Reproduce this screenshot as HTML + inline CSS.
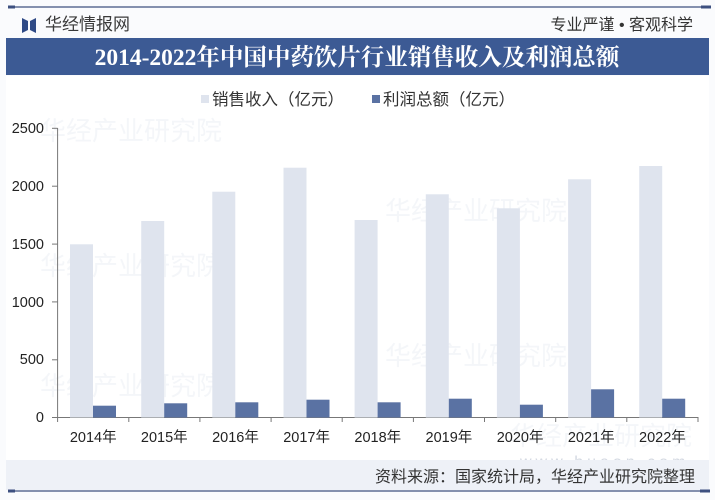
<!DOCTYPE html>
<html><head><meta charset="utf-8">
<style>
html,body{margin:0;padding:0;}
body{width:715px;height:500px;background:#fafbfd;overflow:hidden;font-family:"Liberation Sans","Noto Sans CJK SC",sans-serif;}
svg{display:block;}
</style></head>
<body>
<svg width="715" height="500" viewBox="0 0 715 500" xmlns="http://www.w3.org/2000/svg">
<rect x="0" y="0" width="715" height="500" fill="#fafbfd"/>
<rect x="6" y="76" width="703" height="384" fill="#ffffff"/>
<!-- top line -->
<line x1="8" y1="7" x2="710" y2="7" stroke="#3d5080" stroke-width="1.2"/>
<rect x="8" y="5.5" width="7" height="3" fill="#3d5080"/>
<rect x="701" y="5.5" width="10" height="3" fill="#3d5080"/>
<!-- logo -->
<path d="M22 18 L28 21 L28 30 L22 33 Z" fill="#2f4a86"/>
<path d="M36 18 L30 21 L30 30 L36 33 Z" fill="#2f4a86"/>
<text x="45" y="30" font-size="17" fill="#3a3a3a" font-family="'Liberation Sans','Noto Sans CJK SC',sans-serif">华经情报网</text>
<text x="693" y="30" font-size="16" fill="#333" text-anchor="end" font-family="'Liberation Sans','Noto Sans CJK SC',sans-serif">专业严谨 • 客观科学</text>
<!-- header band -->
<rect x="6" y="38" width="703" height="37" fill="#3c5a94"/>
<text x="357" y="65" font-size="23.5" font-weight="bold" fill="#ffffff" text-anchor="middle" font-family="'Liberation Serif','Noto Serif CJK SC',serif">2014-2022年中国中药饮片行业销售收入及利润总额</text>
<!-- legend -->
<rect x="201" y="95" width="8" height="8" fill="#dfe4ee"/>
<text x="212" y="105" font-size="16.5" fill="#333" font-family="'Liberation Sans','Noto Sans CJK SC',sans-serif">销售收入（亿元）</text>
<rect x="372" y="95" width="8" height="8" fill="#5a72a3"/>
<text x="383" y="105" font-size="16.5" fill="#333" font-family="'Liberation Sans','Noto Sans CJK SC',sans-serif">利润总额（亿元）</text>
<!-- watermarks -->
<g font-size="26" fill="#eef1f6" font-family="'Liberation Sans','Noto Sans CJK SC',sans-serif" opacity="0.6">
<text x="40" y="140">华经产业研究院</text>
<text x="40" y="275">华经产业研究院</text>
<text x="40" y="395">华经产业研究院</text>
<text x="385" y="220">华经产业研究院</text>
<text x="385" y="365">华经产业研究院</text>
<text x="510" y="445">华经产业研究院</text>
</g>
<text x="520" y="467" font-size="16" fill="#d4d9e2" letter-spacing="4" font-family="'Liberation Sans',sans-serif">www.huaon.com</text>
<!-- y axis labels -->
<g font-size="14.5" fill="#222" text-anchor="end" font-family="'Liberation Sans',sans-serif">
<text x="44" y="133">2500</text>
<text x="44" y="191">2000</text>
<text x="44" y="249">1500</text>
<text x="44" y="307">1000</text>
<text x="44" y="364">500</text>
<text x="44" y="422">0</text>
</g>
<!-- y axis ticks -->
<g stroke="#777" stroke-width="1">
<line x1="57.6" y1="128" x2="57.6" y2="418"/>
<line x1="52" y1="128.3" x2="57.6" y2="128.3"/>
<line x1="52" y1="186.2" x2="57.6" y2="186.2"/>
<line x1="52" y1="244.1" x2="57.6" y2="244.1"/>
<line x1="52" y1="301.9" x2="57.6" y2="301.9"/>
<line x1="52" y1="359.8" x2="57.6" y2="359.8"/>
</g>
<!-- x axis -->
<line x1="52" y1="417.5" x2="698.5" y2="417.5" stroke="#777" stroke-width="1"/>
<g stroke="#777" stroke-width="1">
<line x1="57.6" y1="417.5" x2="57.6" y2="422"/>
<line x1="128.8" y1="417.5" x2="128.8" y2="422"/>
<line x1="199.9" y1="417.5" x2="199.9" y2="422"/>
<line x1="271.1" y1="417.5" x2="271.1" y2="422"/>
<line x1="342.2" y1="417.5" x2="342.2" y2="422"/>
<line x1="413.4" y1="417.5" x2="413.4" y2="422"/>
<line x1="484.5" y1="417.5" x2="484.5" y2="422"/>
<line x1="555.7" y1="417.5" x2="555.7" y2="422"/>
<line x1="626.8" y1="417.5" x2="626.8" y2="422"/>
<line x1="698" y1="417.5" x2="698" y2="422"/>
</g>
<!-- sales bars -->
<g fill="#dfe4ee">
<rect x="70" y="244.3" width="23" height="173.2"/>
<rect x="141.2" y="221" width="23" height="196.5"/>
<rect x="212.3" y="191.7" width="23" height="225.8"/>
<rect x="283.5" y="167.7" width="23" height="249.8"/>
<rect x="354.6" y="220" width="23" height="197.5"/>
<rect x="425.8" y="194.3" width="23" height="223.2"/>
<rect x="496.9" y="208.3" width="23" height="209.2"/>
<rect x="568.1" y="179.3" width="23" height="238.2"/>
<rect x="639.2" y="166" width="23" height="251.5"/>
</g>
<!-- profit bars -->
<g fill="#5a72a3">
<rect x="93" y="405.7" width="23" height="11.8"/>
<rect x="164.2" y="403.3" width="23" height="14.2"/>
<rect x="235.3" y="402.3" width="23" height="15.2"/>
<rect x="306.5" y="399.7" width="23" height="17.8"/>
<rect x="377.6" y="402.3" width="23" height="15.2"/>
<rect x="448.8" y="398.7" width="23" height="18.8"/>
<rect x="519.9" y="404.7" width="23" height="12.8"/>
<rect x="591.1" y="389.3" width="23" height="28.2"/>
<rect x="662.2" y="398.7" width="23" height="18.8"/>
</g>
<!-- x labels -->
<g font-size="14.5" fill="#222" text-anchor="middle" font-family="'Liberation Sans','Noto Sans CJK SC',sans-serif">
<text x="93.2" y="442">2014年</text>
<text x="164.3" y="442">2015年</text>
<text x="235.5" y="442">2016年</text>
<text x="306.6" y="442">2017年</text>
<text x="377.8" y="442">2018年</text>
<text x="448.9" y="442">2019年</text>
<text x="520.1" y="442">2020年</text>
<text x="591.2" y="442">2021年</text>
<text x="662.4" y="442">2022年</text>
</g>
<!-- source band -->
<rect x="6" y="460" width="703" height="30" fill="#eef1f7"/>
<text x="695" y="482" font-size="16" fill="#333" text-anchor="end" font-family="'Liberation Sans','Noto Sans CJK SC',sans-serif">资料来源：国家统计局，华经产业研究院整理</text>
<line x1="8" y1="491" x2="708" y2="491" stroke="#3d5080" stroke-width="1.2"/>
<rect x="8" y="489.5" width="7" height="3" fill="#3d5080"/>
<rect x="700" y="489.5" width="10" height="3" fill="#3d5080"/>
</svg>
</body></html>
